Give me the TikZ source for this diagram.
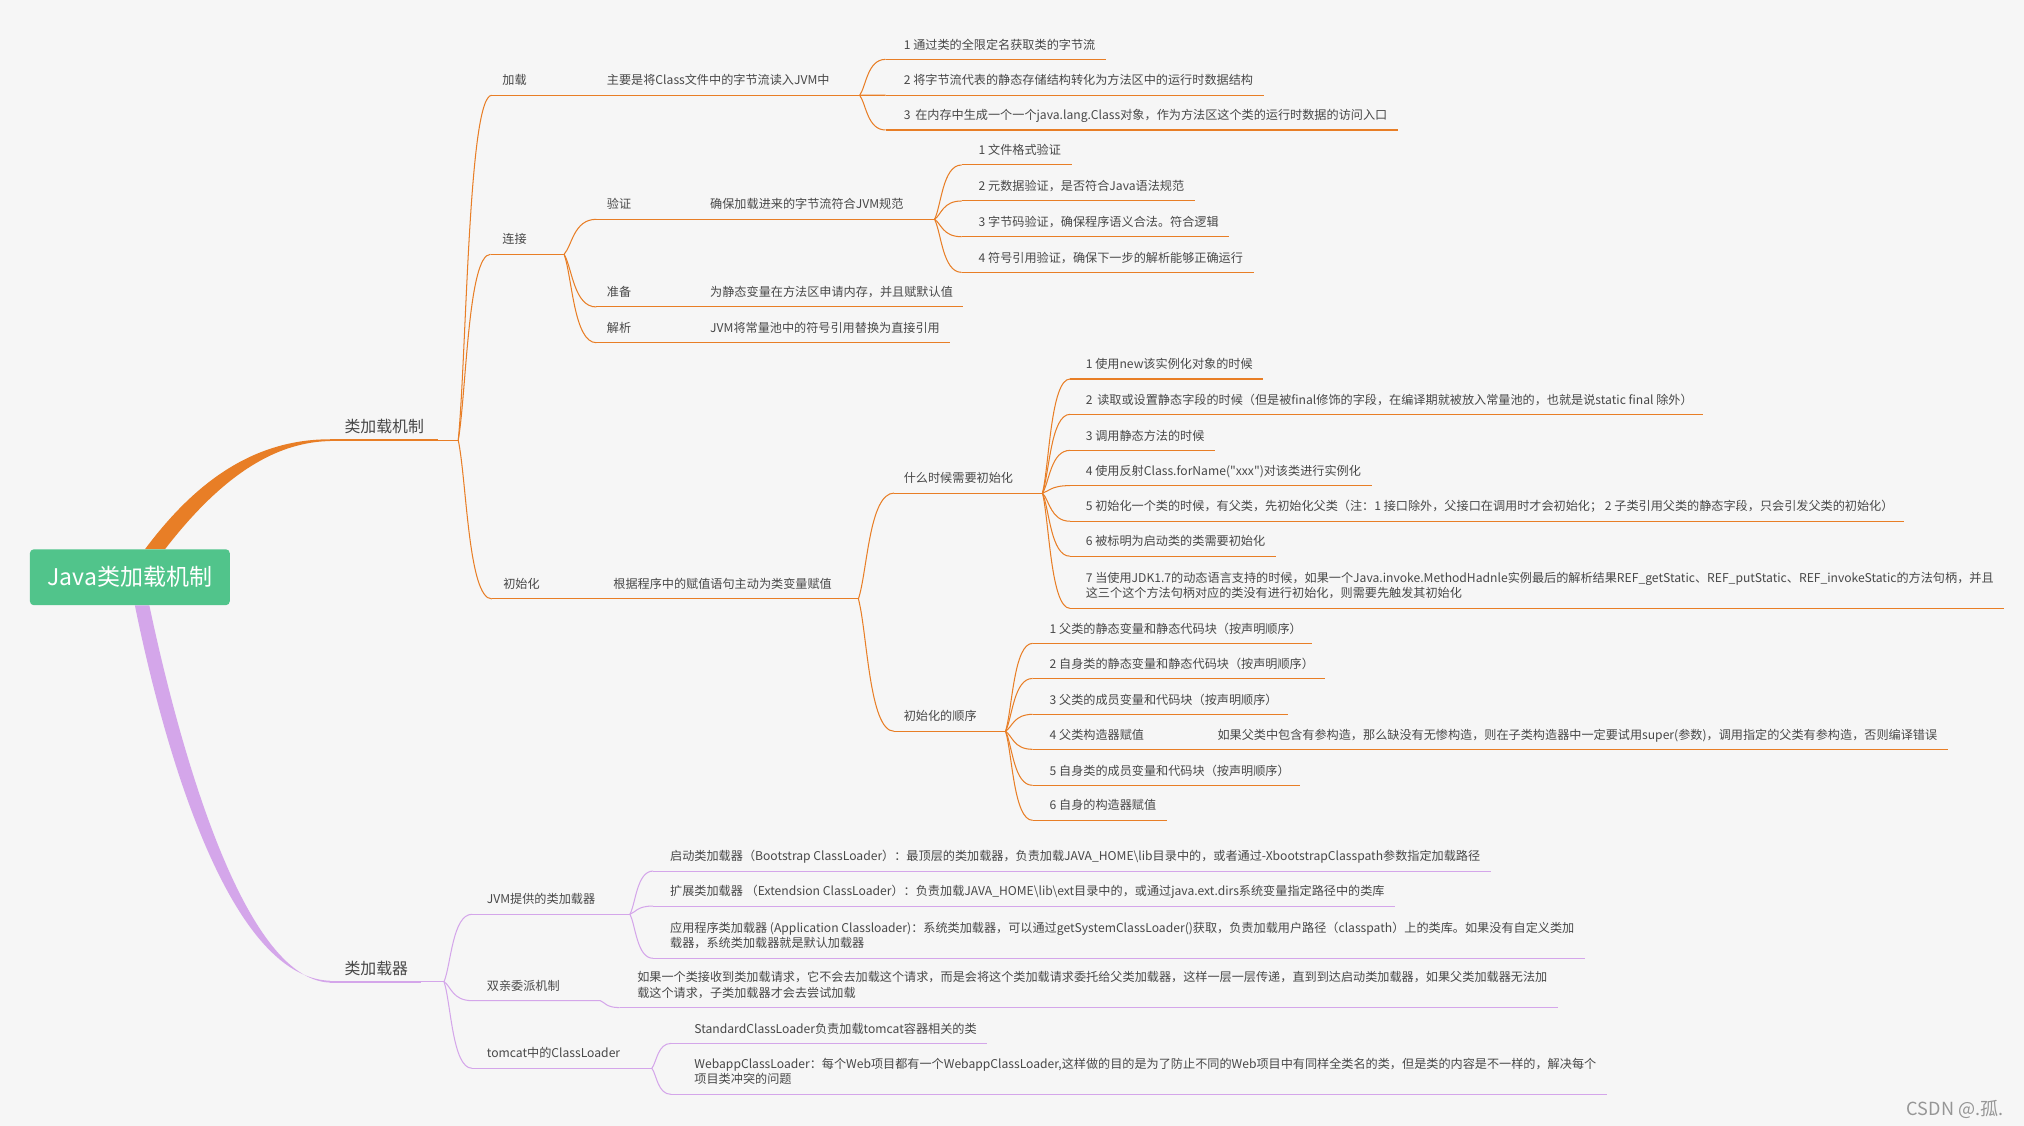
\documentclass[tikz,border=0pt]{standalone}
\usepackage{fontspec}
\setmainfont{Noto Sans CJK SC}
\newfontfamily\qfont{Noto Sans CJK SC}
\usetikzlibrary{calc}
\definecolor{bgc}{RGB}{246,246,246}
\definecolor{orng}{RGB}{232,126,38}
\definecolor{purp}{RGB}{212,166,234}
\definecolor{rootc}{RGB}{81,196,139}
\definecolor{txtc}{RGB}{72,72,72}
\definecolor{wmc}{RGB}{150,150,150}
\newcommand{\leafline}[3]{\draw[#1] (#2) -- ($(#2 -| #3.east)+(8,0)$);}
\begin{document}
\begin{tikzpicture}[x=1pt,y=-1pt,
  lbl/.style={inner sep=0pt, anchor=base west, text=txtc, font=\fontsize{9.4}{11}\selectfont},
  biglbl/.style={inner sep=0pt, anchor=base west, text=txtc, font=\fontsize{12.3}{14}\selectfont},
  oln/.style={draw=orng, line width=0.8pt},
  pln/.style={draw=purp, line width=0.8pt},
  othick/.style={draw=orng, line width=1.4pt},
  pthick/.style={draw=purp, line width=1.4pt},
  crv/.style={to path={.. controls ($(\tikztostart)!0.25!(\tikztotarget)$) and ($(\tikztotarget)!0.7!(\tikztotarget -| \tikztostart)$) .. (\tikztotarget)}},
]
\fill[bgc] (0,0) rectangle (1568,872.3);
\useasboundingbox (0,0) rectangle (1568,872.3);

% ---------- main branches ----------
\coordinate (tO) at (255.7,341);
\coordinate (tOe) at (339.4,341);
\coordinate (bO) at (355,341);
\coordinate (tP) at (255.7,760.5);
\coordinate (tPe) at (326,760.5);
\coordinate (bP) at (344,760.5);

\fill[orng] (112.3,425.5) .. controls (150,375) and (195,340.3) .. (255.7,340.3)
  -- (255.7,341.7) .. controls (205,342.5) and (163,380) .. (127.8,425.5) -- cycle;
\fill[purp] (104.5,469) .. controls (125,570) and (175,757) .. (255.7,759.8)
  -- (255.7,761.2) .. controls (187,759) and (137,570) .. (115.7,469) -- cycle;

\node[fill=rootc, rounded corners=3pt, minimum width=154.8pt, minimum height=43.3pt,
  inner sep=0pt, text=white, font=\fontsize{17.8}{20}\selectfont] (root) at (100.6,447.2) {Java类加载机制};

\draw[othick] (tO) -- (tOe); \draw[oln] (tOe) -- (bO);
\node[biglbl] (lzjz) at (266.7,335) {类加载机制};
\draw[pthick] (tP) -- (tPe); \draw[pln] (tPe) -- (bP);
\node[biglbl] (lzq) at (266.7,755) {类加载器};

% ---------- 加载 ----------
\coordinate (cjz) at (381,73.8);
\coordinate (cjzm) at (462,73.8);
\coordinate (bjz) at (666,73.8);
\node[lbl] (jz) at (389,65.8) {加载};
\node[lbl] (jzm) at (470,65.8) {主要是将Class文件中的字节流读入JVM中};
\draw[oln] (bO) to[crv] (cjz);
\draw[oln] (cjz) -- (cjzm) -- (bjz);
\coordinate (cj1) at (686,46);
\coordinate (cj2) at (686,73.8);
\coordinate (cj3) at (686,100.7);
\node[lbl] (j1) at (700,38) {1 通过类的全限定名获取类的字节流};
\node[lbl] (j2) at (700,65.8) {2 将字节流代表的静态存储结构转化为方法区中的运行时数据结构};
\node[lbl] (j3) at (700,92.7) {3 \,在内存中生成一个一个java.lang.Class对象，作为方法区这个类的运行时数据的访问入口};
\foreach \k in {1,2,3} {\draw[oln] (bjz) to[crv] (cj\k); \leafline{oln}{cj\k}{j\k}}

% ---------- 连接 ----------
\coordinate (clj) at (380,197);
\coordinate (blj) at (437,197);
\node[lbl] (lj) at (389,189) {连接};
\draw[oln] (bO) to[crv] (clj);
\draw[oln] (clj) -- (blj);

\coordinate (cyz) at (462,169.9);
\coordinate (cyzm) at (540,169.9);
\coordinate (byz) at (724,169.9);
\node[lbl] (yz) at (470,161.9) {验证};
\node[lbl] (yzm) at (550,161.9) {确保加载进来的字节流符合JVM规范};
\draw[oln] (blj) to[crv] (cyz);
\draw[oln] (cyz) -- (cyzm) -- (byz);
\coordinate (cv1) at (745,127.8);
\coordinate (cv2) at (745,155.7);
\coordinate (cv3) at (745,183.4);
\coordinate (cv4) at (745,211);
\node[lbl] (v1) at (758,119.8) {1 文件格式验证};
\node[lbl] (v2) at (758,147.7) {2 元数据验证，是否符合Java语法规范};
\node[lbl] (v3) at (758,175.4) {3 字节码验证，确保程序语义合法。符合逻辑};
\node[lbl] (v4) at (758,203) {4 符号引用验证，确保下一步的解析能够正确运行};
\foreach \k in {1,2,3,4} {\draw[oln] (byz) to[crv] (cv\k); \leafline{oln}{cv\k}{v\k}}

\coordinate (czb) at (462,237.8);
\coordinate (czbm) at (540,237.8);
\node[lbl] (zb) at (470,229.8) {准备};
\node[lbl] (zbm) at (550,229.8) {为静态变量在方法区申请内存，并且赋默认值};
\draw[oln] (blj) to[crv] (czb);
\draw[oln] (czb) -- (czbm); \leafline{oln}{czbm}{zbm}

\coordinate (cjx) at (462,265.5);
\coordinate (cjxm) at (540,265.5);
\node[lbl] (jx) at (470,257.5) {解析};
\node[lbl] (jxm) at (550,257.5) {JVM将常量池中的符号引用替换为直接引用};
\draw[oln] (blj) to[crv] (cjx);
\draw[oln] (cjx) -- (cjxm); \leafline{oln}{cjxm}{jxm}

% ---------- 初始化 ----------
\coordinate (ccsh) at (381,464);
\coordinate (ccshm) at (468,464);
\coordinate (bcsh) at (665,464);
\node[lbl] (csh) at (389.7,456) {初始化};
\node[lbl] (cshm) at (475,456) {根据程序中的赋值语句主动为类变量赋值};
\draw[oln] (bO) to[crv] (ccsh);
\draw[oln] (ccsh) -- (ccshm) -- (bcsh);

\coordinate (css) at (692.6,382);
\coordinate (bss) at (807.6,382);
\node[lbl] (ss) at (700,374) {什么时候需要初始化};
\draw[oln] (bcsh) to[crv] (css);
\draw[oln] (css) -- (bss);
\coordinate (cw1) at (829,293.6);
\coordinate (cw2) at (829,321);
\coordinate (cw3) at (829,348.9);
\coordinate (cw4) at (829,376.2);
\coordinate (cw5) at (829,403.8);
\coordinate (cw6) at (829,430.9);
\coordinate (cw7) at (829,471.3);
\node[lbl] (w1) at (841,285.6) {1 使用new该实例化对象的时候};
\node[lbl] (w2) at (841,313) {2 \,读取或设置静态字段的时候（但是被final修饰的字段，在编译期就被放入常量池的，也就是说static final 除外）};
\node[lbl] (w3) at (841,340.9) {3 调用静态方法的时候};
\node[lbl] (w4) at (841,368.2) {4 使用反射Class.forName({\qfont"xxx"})对该类进行实例化};
\node[lbl] (w5) at (841,395.8) {5 初始化一个类的时候，有父类，先初始化父类（注：1 接口除外，父接口在调用时才会初始化； 2 子类引用父类的静态字段，只会引发父类的初始化）};
\node[lbl] (w6) at (841,422.9) {6 被标明为启动类的类需要初始化};
\node[lbl] (w7) at (841,451.3) {7 当使用JDK1.7的动态语言支持的时候，如果一个Java.invoke.MethodHadnle实例最后的解析结果REF\_getStatic、REF\_putStatic、REF\_invokeStatic的方法句柄，并且};
\node[lbl] (w7b) at (841,463.1) {这三个这个方法句柄对应的类没有进行初始化，则需要先触发其初始化};
\foreach \k in {1,...,7} {\draw[oln] (bss) to[crv] (cw\k); \leafline{oln}{cw\k}{w\k}}

\coordinate (csx) at (692.6,566.5);
\coordinate (bsx) at (779,566.5);
\node[lbl] (sx) at (700,558.5) {初始化的顺序};
\draw[oln] (bcsh) to[crv] (csx);
\draw[oln] (csx) -- (bsx);
\coordinate (co1) at (800,498.4);
\coordinate (co2) at (800,525.6);
\coordinate (co3) at (800,553.4);
\coordinate (co4) at (800,580.5);
\coordinate (co5) at (800,608.4);
\coordinate (co6) at (800,635.5);
\coordinate (co4m) at (932,580.5);
\node[lbl] (o1) at (813,490.4) {1 父类的静态变量和静态代码块（按声明顺序）};
\node[lbl] (o2) at (813,517.6) {2 自身类的静态变量和静态代码块（按声明顺序）};
\node[lbl] (o3) at (813,545.4) {3 父类的成员变量和代码块（按声明顺序）};
\node[lbl] (o4) at (813,572.5) {4 父类构造器赋值};
\node[lbl] (o4m) at (943,572.5) {如果父类中包含有参构造，那么缺没有无惨构造，则在子类构造器中一定要试用super(参数)，调用指定的父类有参构造，否则编译错误};
\node[lbl] (o5) at (813,600.4) {5 自身类的成员变量和代码块（按声明顺序）};
\node[lbl] (o6) at (813,627.5) {6 自身的构造器赋值};
\foreach \k in {1,2,3,5,6} {\draw[oln] (bsx) to[crv] (co\k); \leafline{oln}{co\k}{o\k}}
\draw[oln] (bsx) to[crv] (co4);
\draw[oln] (co4) -- (co4m); \leafline{oln}{co4m}{o4m}

% ---------- 类加载器 ----------
\coordinate (cjvm) at (365.7,708.3);
\coordinate (bjvm) at (488,708.3);
\node[lbl] (jvm) at (377,700.3) {JVM提供的类加载器};
\draw[pln] (bP) to[crv] (cjvm);
\draw[pln] (cjvm) -- (bjvm);
\coordinate (cc1) at (506,674.8);
\coordinate (cc2) at (506,701.9);
\coordinate (cc3) at (506,742.4);
\node[lbl] (c1) at (519,666.8) {启动类加载器（Bootstrap ClassLoader）：最顶层的类加载器，负责加载JAVA\_HOME\textbackslash lib目录中的，或者通过-XbootstrapClasspath参数指定加载路径};
\node[lbl] (c2) at (519,693.9) {扩展类加载器 （Extendsion ClassLoader）：负责加载JAVA\_HOME\textbackslash lib\textbackslash ext目录中的，或通过java.ext.dirs系统变量指定路径中的类库};
\node[lbl] (c3) at (519,722.2) {应用程序类加载器 (Application Classloader)：系统类加载器，可以通过getSystemClassLoader()获取，负责加载用户路径（classpath）上的类库。如果没有自定义类加};
\node[lbl] (c3b) at (519,734.2) {载器，系统类加载器就是默认加载器};
\foreach \k in {1,2,3} {\draw[pln] (bjvm) to[crv] (cc\k); \leafline{pln}{cc\k}{c\k}}

\coordinate (csq) at (365.7,775.2);
\coordinate (csqe) at (465,775.2);
\coordinate (csqm) at (480,780.6);
\node[lbl] (sq) at (377,767.2) {双亲委派机制};
\node[lbl] (sqa) at (493.5,760.3) {如果一个类接收到类加载请求，它不会去加载这个请求，而是会将这个类加载请求委托给父类加载器，这样一层一层传递，直到到达启动类加载器，如果父类加载器无法加};
\node[lbl] (sqb) at (493.5,772.5) {载这个请求，子类加载器才会去尝试加载};
\draw[pln] (bP) to[crv] (csq);
\draw[pln] (csq) -- (csqe) to[crv] (csqm);
\leafline{pln}{csqm}{sqa}

\coordinate (ctc) at (365.7,827.6);
\coordinate (btc) at (505,827.6);
\node[lbl] (tc) at (377,819.6) {tomcat中的ClassLoader};
\draw[pln] (bP) to[crv] (ctc);
\draw[pln] (ctc) -- (btc);
\coordinate (cs1) at (520,808.3);
\coordinate (cs2) at (520,847.8);
\node[lbl] (s1) at (537.8,800.3) {StandardClassLoader负责加载tomcat容器相关的类};
\node[lbl] (s2) at (537.8,827.4) {WebappClassLoader：每个Web项目都有一个WebappClassLoader,这样做的目的是为了防止不同的Web项目中有同样全类名的类，但是类的内容是不一样的，解决每个};
\node[lbl] (s2b) at (537.8,839.6) {项目类冲突的问题};
\foreach \k in {1,2} {\draw[pln] (btc) to[crv] (cs\k); \leafline{pln}{cs\k}{s\k}}

% ---------- watermark ----------
\node[inner sep=0pt, anchor=base west, text=wmc, font=\fontsize{14}{16}\selectfont] (wm) at (1477,864) {CSDN @.孤.};
\end{tikzpicture}
\end{document}
